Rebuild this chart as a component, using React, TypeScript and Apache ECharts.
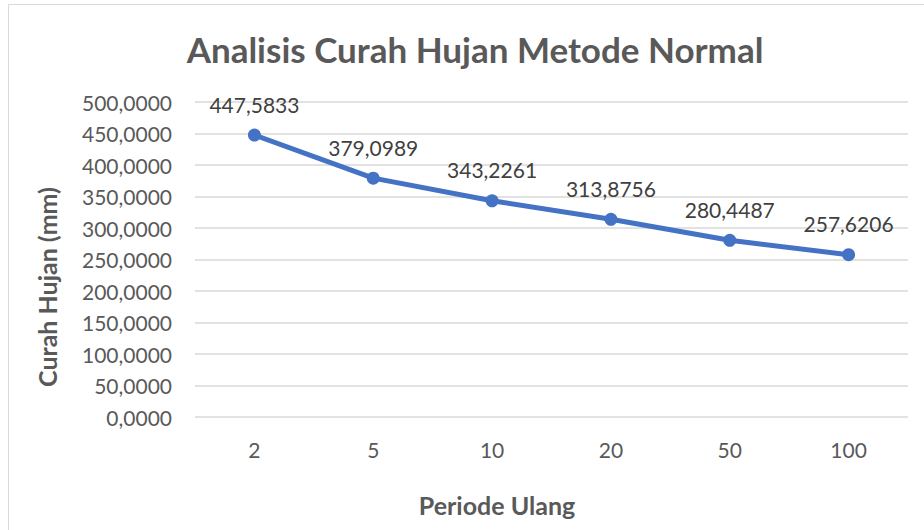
import React, { useEffect, useRef } from "react";
import * as echarts from "echarts";

const categories = ["2", "5", "10", "20", "50", "100"];
const values = [447.5833, 379.0989, 343.2261, 313.8756, 280.4487, 257.6206];
const titleText = "Analisis Curah Hujan Metode Normal";
const yName = "Curah Hujan (mm)";
const xName = "Periode Ulang";

const fmt = (v: number) => v.toFixed(4).replace(".", ",");
const FONT = "Lato, 'Open Sans', sans-serif";

export default function App() {
  const ref = useRef<HTMLDivElement>(null);
  useEffect(() => {
    if (!ref.current) return;
    const chart = echarts.init(ref.current, undefined, { renderer: "svg" });
    chart.setOption({
      animation: false,
      backgroundColor: "#ffffff",
      textStyle: { fontFamily: FONT },
      title: {
        text: titleText,
        left: 470,
        top: 26,
        textAlign: "center",
        textStyle: { fontFamily: FONT, fontSize: 35, fontWeight: "bold", color: "#595959" },
      },
      graphic: [
        {
          type: "rect",
          shape: { x: 8.5, y: 4.5, width: 1000, height: 600 },
          style: { fill: "none", stroke: "#d9d9d9", lineWidth: 1 },
          silent: true,
        },
        {
          type: "text",
          x: 47,
          y: 287,
          rotation: Math.PI / 2,
          style: {
            text: yName,
            fontFamily: FONT,
            fontSize: 25,
            fontWeight: "bold",
            fill: "#595959",
            align: "center",
            verticalAlign: "middle",
          },
        },
        {
          type: "text",
          x: 497,
          y: 505,
          style: {
            text: xName,
            fontFamily: FONT,
            fontSize: 25,
            fontWeight: "bold",
            fill: "#595959",
            align: "center",
            verticalAlign: "middle",
          },
        },
      ],
      grid: { left: 195, right: 16, top: 102, bottom: 113, containLabel: false },
      xAxis: {
        type: "category",
        data: categories,
        boundaryGap: true,
        axisLine: { show: false },
        axisTick: { show: false },
        axisLabel: { color: "#595959", fontSize: 21, fontFamily: FONT, margin: 22 },
      },
      yAxis: {
        type: "value",
        min: 0,
        max: 500,
        interval: 50,
        axisLine: { show: false },
        axisTick: { show: false },
        splitLine: { lineStyle: { color: "#d9d9d9", width: 1.5 } },
        axisLabel: {
          color: "#595959",
          fontSize: 21,
          fontFamily: FONT,
          margin: 23,
          formatter: (v: number) => fmt(v),
        },
      },
      series: [
        {
          type: "line",
          data: values,
          symbol: "circle",
          symbolSize: 13,
          lineStyle: { color: "#4472C4", width: 5 },
          itemStyle: { color: "#4472C4" },
          label: {
            show: true,
            position: "top",
            distance: 14,
            color: "#404040",
            fontSize: 21,
            fontFamily: FONT,
            formatter: (p: any) => fmt(p.value),
          },
        },
      ],
    });
    return () => chart.dispose();
  }, []);
  return (
    <div
      ref={ref}
      style={{ position: "absolute", left: 0, top: 0, width: 924, height: 530 }}
    />
  );
}
